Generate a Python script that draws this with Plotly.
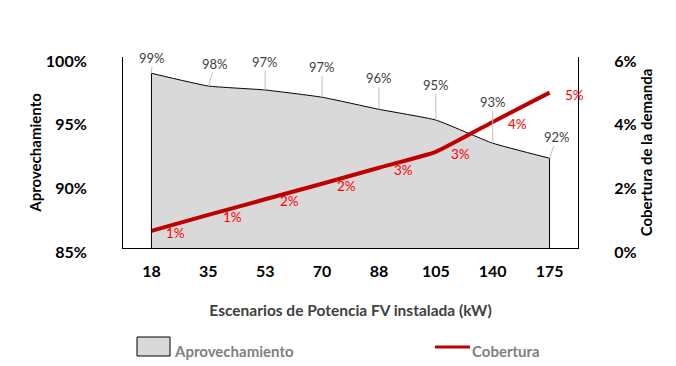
import plotly.graph_objects as go

categories = ["18", "35", "53", "70", "88", "105", "140", "175"]
aprovechamiento = [98.72, 97.72, 97.41, 96.84, 95.89, 95.05, 93.23, 92.05]
cobertura = [0.54, 1.04, 1.53, 2.02, 2.52, 3.02, 3.96, 4.88]
left_ticks = [85, 90, 95, 100]
right_ticks = [0, 2, 4, 6]

FONT = "Lato"
OFF = 8  # page body margin
W, H = 676 - OFF, 366 - OFF
L, T = 123 - OFF, 57 - OFF
pw, ph = 455, 191
R, B = W - L - pw, H - T - ph

def px(x):
    return (x - OFF - L) / pw

def py(y):
    return (T + ph - (y - OFF)) / ph

fig = go.Figure()

# Area (aprovechamiento)
fig.add_trace(go.Scatter(
    x=categories, y=aprovechamiento, mode="lines",
    line=dict(color="black", width=1, shape="spline", smoothing=0.4),
    fill="tozeroy", fillcolor="#D9D9D9", yaxis="y", showlegend=False,
    hoverinfo="skip"))

# vertical edges of area
for i in (0, len(categories) - 1):
    fig.add_shape(type="line", xref="x", yref="y",
                  x0=i, x1=i,
                  y0=left_ticks[0], y1=aprovechamiento[i],
                  line=dict(color="black", width=1))

# Red line (cobertura)
fig.add_trace(go.Scatter(
    x=categories, y=cobertura, mode="lines",
    line=dict(color="#C00000", width=4, shape="spline", smoothing=0.4),
    yaxis="y2", showlegend=False, hoverinfo="skip"))

# gray labels with leader lines
offsets = [(1, -15), (7, -22), (0, -28), (0, -30), (0, -31), (0, -35), (0, -41), (7, -21)]
for i, (v, (ax, ay)) in enumerate(zip(aprovechamiento, offsets)):
    fig.add_annotation(x=i, y=v, xref="x", yref="y", text=f"{round(v)}%",
                       showarrow=True, arrowhead=0, arrowwidth=1, arrowcolor="#BFBFBF",
                       ax=ax, ay=ay, font=dict(family=FONT, size=13, color="#404040"),
                       borderpad=0)

# red labels
for i, v in enumerate(cobertura):
    fig.add_annotation(x=i, y=v, xref="x", yref="y2", text=f"{round(v + 1e-9)}%",
                       showarrow=False, xanchor="left", xshift=13, yshift=-2,
                       font=dict(family=FONT, size=13.5, color="#FF0000"))

# custom legend
fig.add_shape(type="rect", xref="paper", yref="paper",
              x0=px(137), x1=px(170), y0=py(356), y1=py(337),
              fillcolor="#D9D9D9", line=dict(color="black", width=1))
fig.add_annotation(xref="paper", yref="paper", x=px(172), y=py(351), text="Aprovechamiento",
                   showarrow=False, xanchor="left", yanchor="middle",
                   font=dict(family=FONT, size=15, color="#7F7F7F", weight="bold"))
fig.add_shape(type="line", xref="paper", yref="paper",
              x0=px(435), x1=px(470), y0=py(347), y1=py(347),
              line=dict(color="#C00000", width=3))
fig.add_annotation(xref="paper", yref="paper", x=px(470), y=py(351), text="Cobertura",
                   showarrow=False, xanchor="left", yanchor="middle",
                   font=dict(family=FONT, size=15, color="#7F7F7F", weight="bold"))

tickfont = dict(family=FONT, size=16, color="black", weight="bold")
fig.update_layout(
    width=W, height=H,
    margin=dict(l=L, r=R, t=T, b=B, autoexpand=False),
    paper_bgcolor="white", plot_bgcolor="white",
    xaxis=dict(type="category", range=[-0.5, len(categories) - 0.5],
               showline=True, linecolor="black", linewidth=1, showgrid=False,
               ticks="", tickfont=tickfont, ticklabelstandoff=9, automargin=False,
               title=dict(text="Escenarios de Potencia FV instalada (kW)",
                          font=dict(family=FONT, size=15.5, color="#404040", weight="bold"),
                          standoff=25)),
    yaxis=dict(range=[85, 100], tickvals=left_ticks,
               ticktext=[f"{t}%" for t in left_ticks],
               showline=True, linecolor="black", linewidth=1, showgrid=False,
               ticks="", tickfont=tickfont, ticklabelstandoff=32, zeroline=False,
               automargin=False, ticklabelshift=4,
               title=dict(text="Aprovechamiento",
                          font=dict(family=FONT, size=15, color="black", weight="bold"),
                          standoff=0)),
    yaxis2=dict(range=[0, 6], tickvals=right_ticks,
                ticktext=[f"{t}%" for t in right_ticks],
                overlaying="y", side="right",
                showline=True, linecolor="black", linewidth=1, showgrid=False,
                ticks="", tickfont=tickfont, ticklabelstandoff=32, zeroline=False,
                automargin=False, ticklabelshift=4,
                title=dict(text="Cobertura de la demanda",
                           font=dict(family=FONT, size=15, color="black", weight="bold"),
                           standoff=4)),
    showlegend=False,
)

fig.write_html("out.html")
